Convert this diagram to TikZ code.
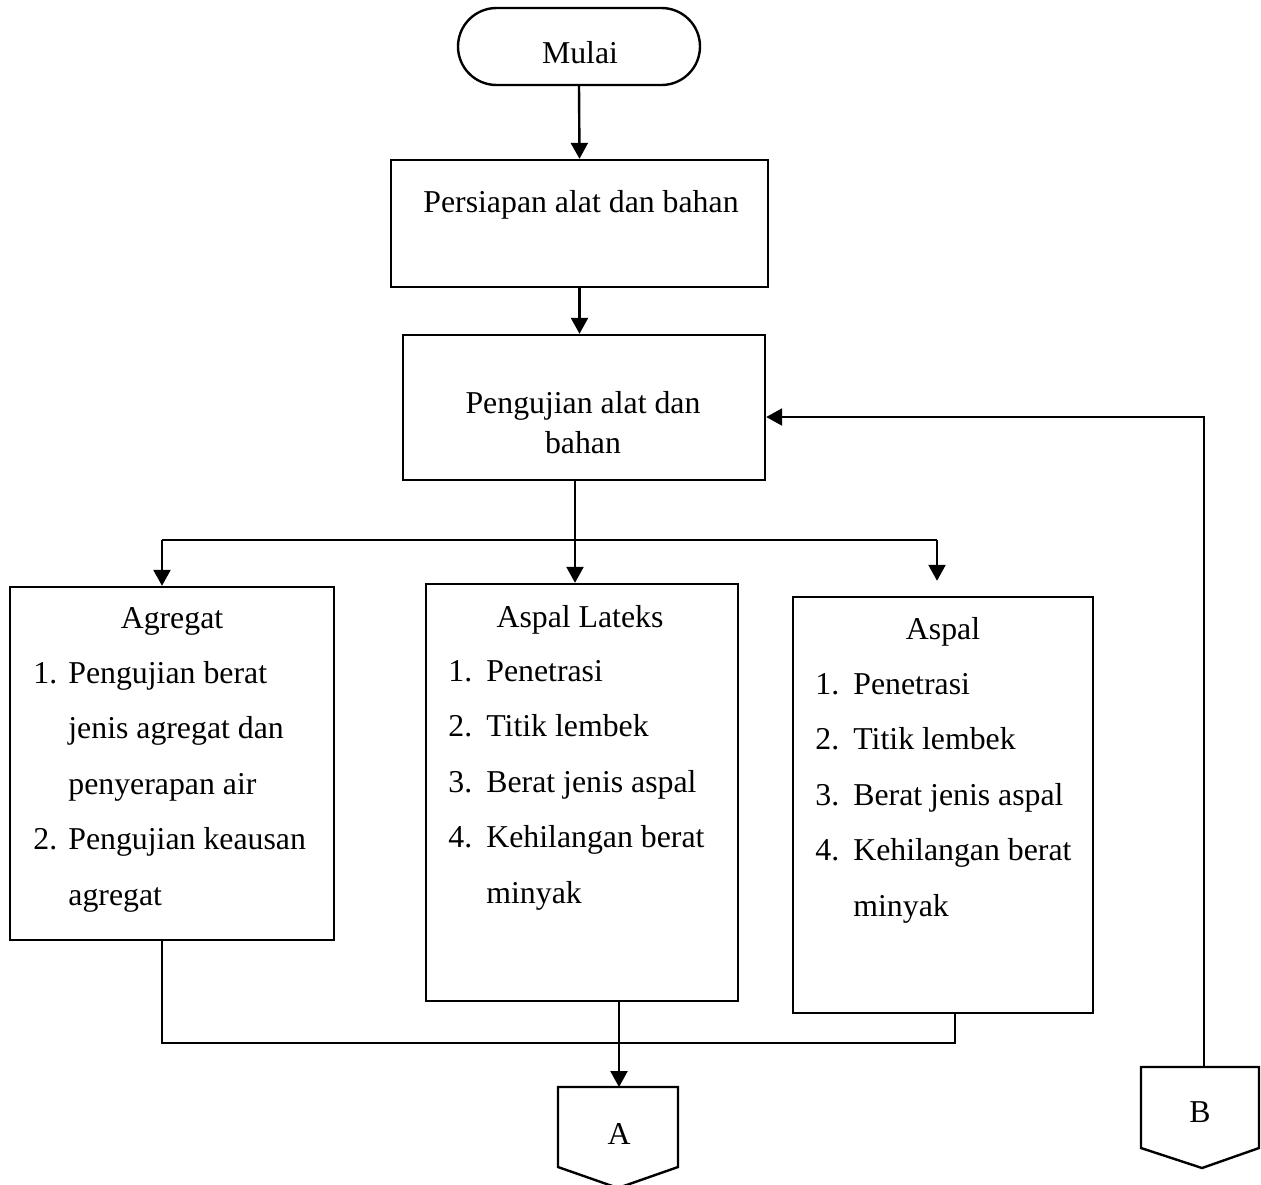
\documentclass[tikz,border=0pt]{standalone}
\usepackage{fontspec}
\setmainfont{Liberation Serif}
\usetikzlibrary{arrows.meta,shapes.misc}

\begin{document}
\begin{tikzpicture}[x=0.5pt,y=-0.5pt,
	box/.style={draw, line width=1.2pt, inner sep=0pt},
	txt/.style={font=\fontsize{15.9}{20}\selectfont, inner sep=0pt},
	lst/.style={font=\fontsize{15.9}{27.75}\selectfont, inner sep=0pt, anchor=base west},
	ln/.style={line width=1.2pt},
	arr/.style={line width=1.2pt, -{Triangle[length=8pt,width=8.5pt]}}]
		%%%%% START %%%%%
		
		\useasboundingbox (0,0) rectangle (1261,1184);
		
		\node[box, rounded rectangle, minimum width=121pt, minimum height=38.5pt] (mulai) at (579,46.5) {};
		\node[txt] (mulaitxt) at (580,53) {Mulai};
		
		\node[box, minimum width=188.5pt, minimum height=63.5pt] (persiapan) at (579.5,223.5) {};
		\node[txt] (persiapantxt) at (581,205) {Persiapan alat dan bahan};
		
		\node[box, minimum width=181pt, minimum height=72.5pt] (pengujian) at (584,407.5) {};
		\node[txt, align=center] (pengujiantxt) at (583,423) {Pengujian alat dan\\bahan};
		
		\node[box, minimum width=162pt, minimum height=176.5pt] (agregat) at (172,763.5) {};
		\node[txt] (agregattxt) at (172,621) {Agregat};
		\node[lst] (agregatlst) at (33,683) {\begin{tabular}[t]{@{}p{17.5pt}@{}l@{}}
			1. & Pengujian berat\\ & jenis agregat dan\\ & penyerapan air\\
			2. & Pengujian keausan\\ & agregat\end{tabular}};
		
		\node[box, minimum width=156pt, minimum height=208.5pt] (lateks) at (582,792.5) {};
		\node[txt] (latekstxt) at (580,620) {Aspal Lateks};
		\node[lst] (latekslst) at (448,681) {\begin{tabular}[t]{@{}p{19pt}@{}l@{}}
			1. & Penetrasi\\ 2. & Titik lembek\\ 3. & Berat jenis aspal\\
			4. & Kehilangan berat\\ & minyak\end{tabular}};
		
		\node[box, minimum width=150pt, minimum height=208pt] (aspal) at (943,805) {};
		\node[txt] (aspaltxt) at (943,632) {Aspal};
		\node[lst] (aspallst) at (815,694) {\begin{tabular}[t]{@{}p{19pt}@{}l@{}}
			1. & Penetrasi\\ 2. & Titik lembek\\ 3. & Berat jenis aspal\\
			4. & Kehilangan berat\\ & minyak\end{tabular}};
		
		% off page connectors
		\draw[ln] (558,1087) -- (678,1087) -- (678,1167) -- (618,1188) -- (558,1167) -- cycle;
		\node[txt] (A) at (619,1134) {A};
		\coordinate (Atop) at (619,1087);
		\draw[ln] (1141,1067) -- (1259,1067) -- (1259,1148) -- (1202,1168) -- (1141,1148) -- cycle;
		\node[txt] (B) at (1200,1112) {B};
		\coordinate (Btop) at (1204,1067);
		
		\draw[arr] (mulai.south) -- (persiapan.north);
		\draw[arr] (persiapan.south) -- (persiapan.south |- pengujian.north);
		
		\coordinate (split) at (575,540);
		\coordinate (splitL) at (162,540);
		\coordinate (splitR) at (937,540);
		\draw[ln] (pengujian.south -| split) -- (split);
		\draw[ln] (splitL) -- (splitR);
		\draw[arr] (splitL) -- (splitL |- agregat.north);
		\draw[arr] (split) -- (split |- lateks.north);
		\draw[arr, shorten >=7.5pt] (splitR) -- (splitR |- aspal.north);
		
		\coordinate (joinL) at (162,1043);
		\coordinate (joinR) at (955,1043);
		\draw[ln] (joinL |- agregat.south) -- (joinL) -- (joinR) -- (joinR |- aspal.south);
		\draw[arr] (Atop |- lateks.south) -- (Atop);
		
		\coordinate (back) at (1204,417);
		\draw[arr] (Btop) -- (back) -- (back -| pengujian.east);
		
		%%%%% END %%%%%
\end{tikzpicture}
\end{document}
